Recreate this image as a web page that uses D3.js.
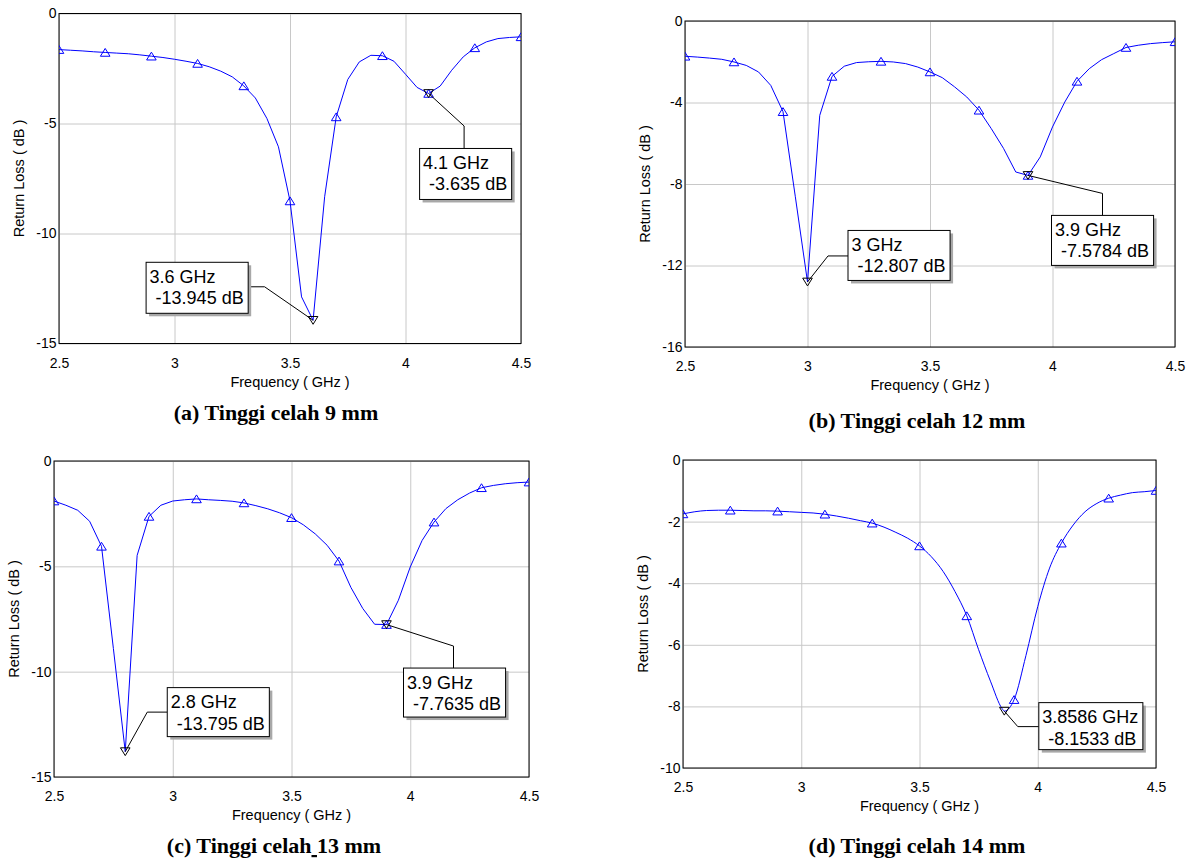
<!DOCTYPE html>
<html>
<head>
<meta charset="utf-8">
<script src="https://cdnjs.cloudflare.com/ajax/libs/d3/7.8.5/d3.min.js"></script>
<style>
  body { margin: 0; background: #fff; }
  text { font-family: "Liberation Sans", Arial, sans-serif; }
  .caption { font-family: "Liberation Serif", "Times New Roman", serif; font-weight: bold; font-size: 22px; }
</style>
</head>
<body>
<div id="chart"></div>
<script>
// sweep frequencies (GHz)
var freqs = [2.5, 2.55, 2.6, 2.65, 2.7, 2.75, 2.8, 2.85, 2.9, 2.95,
             3.0, 3.05, 3.1, 3.15, 3.2, 3.25, 3.3, 3.35, 3.4, 3.45,
             3.5, 3.55, 3.6, 3.65, 3.7, 3.75, 3.8, 3.85, 3.9, 3.95,
             4.0, 4.05, 4.1, 4.15, 4.2, 4.25, 4.3, 4.35, 4.4, 4.45, 4.5];
var freqsD = [2.5, 2.55, 2.6, 2.65, 2.7, 2.75, 2.8, 2.85, 2.9, 2.95,
              3.0, 3.05, 3.1, 3.15, 3.2, 3.25, 3.3, 3.35, 3.4, 3.45,
              3.5, 3.55, 3.6, 3.65, 3.7, 3.75, 3.8, 3.85, 3.8586, 3.9, 3.95,
              4.0, 4.05, 4.1, 4.15, 4.2, 4.25, 4.3, 4.35, 4.4, 4.45, 4.5];

// return loss (dB)
var lossA = [-1.64, -1.67, -1.70, -1.74, -1.77, -1.80, -1.83, -1.88, -1.94, -2.00,
             -2.08, -2.17, -2.27, -2.42, -2.62, -2.88, -3.29, -3.84, -4.77, -6.06,
             -8.52, -12.88, -13.945, -8.33, -4.70, -3.00, -2.20, -1.90, -1.92, -2.17,
             -2.76, -3.36, -3.635, -3.30, -2.58, -1.97, -1.56, -1.29, -1.14, -1.09, -1.06];
var lossB = [-1.73, -1.77, -1.82, -1.88, -2.01, -2.18, -2.50, -3.16, -4.45, -8.6,
             -12.807, -4.63, -2.72, -2.22, -2.04, -2.00, -1.98, -2.01, -2.09, -2.26,
             -2.50, -2.78, -3.23, -3.73, -4.38, -5.28, -6.25, -7.41, -7.5784, -6.67,
             -5.20, -3.98, -2.96, -2.34, -1.90, -1.60, -1.30, -1.19, -1.11, -1.06, -1.02];
var lossC = [-1.90, -2.10, -2.34, -2.86, -4.05, -8.9, -13.795, -4.48, -2.63, -2.10,
             -1.90, -1.84, -1.80, -1.84, -1.87, -1.91, -1.99, -2.12, -2.27, -2.46,
             -2.69, -3.03, -3.46, -4.00, -4.75, -6.00, -7.00, -7.75, -7.7635, -6.61,
             -5.03, -3.77, -2.90, -2.26, -1.84, -1.52, -1.27, -1.16, -1.08, -1.03, -1.00];
var lossD = [-1.75, -1.68, -1.64, -1.63, -1.63, -1.64, -1.65, -1.65, -1.66, -1.68,
             -1.70, -1.72, -1.76, -1.82, -1.89, -1.97, -2.05, -2.18, -2.35, -2.54,
             -2.79, -3.14, -3.62, -4.27, -5.06, -6.16, -7.18, -8.08, -8.1533, -7.78, -6.35,
             -4.76, -3.51, -2.70, -2.11, -1.68, -1.41, -1.24, -1.14, -1.06, -1.03, -0.99];

// frequencies that carry the blue triangle symbol
var symbolFreqs = [2.5, 2.7, 2.9, 3.1, 3.3, 3.5, 3.7, 3.9, 4.1, 4.3, 4.5];

var xTicks = [2.5, 3, 3.5, 4, 4.5];
var yTicksA = [0, -5, -10, -15];
var yTicksB = [0, -4, -8, -12, -16];
var yTicksC = [0, -5, -10, -15];
var yTicksD = [0, -2, -4, -6, -8, -10];

// marker readouts [GHz, dB]
var markersA = [[3.6, -13.945], [4.1, -3.635]];
var markersB = [[3, -12.807], [3.9, -7.5784]];
var markersC = [[2.8, -13.795], [3.9, -7.7635]];
var markersD = [[3.8586, -8.1533]];

var captions = ["(a) Tinggi celah 9 mm", "(b) Tinggi celah 12 mm",
                "(c) Tinggi celah 13 mm", "(d) Tinggi celah 14 mm"];

// layout of each panel (pixels)
var panels = [
  {f: freqs, v: lossA, yTicks: yTicksA, markers: markersA, caption: captions[0],
   left: 59, top: 13.5, right: 521, bottom: 343.5, capX: 276, capY: 420, curve: d3.curveLinear,
   boxes: [{dx: -167, dy: -58, ex: -48.5, ey: -33.5, side: "right", h: 51},
           {dx: -9, dy: 55, ex: 35.5, ey: 32.5, side: "top", h: 51}]},
  {f: freqs, v: lossB, yTicks: yTicksB, markers: markersB, caption: captions[1],
   left: 685, top: 21, right: 1175, bottom: 347, capX: 917, capY: 428, curve: d3.curveLinear,
   boxes: [{dx: 40.5, dy: -51.5, ex: 20.5, ey: -26, side: "left", h: 50},
           {dx: 23.5, dy: 40, ex: 74.5, ey: 18, side: "top", h: 50}]},
  {f: freqs, v: lossC, yTicks: yTicksC, markers: markersC, caption: captions[2],
   left: 54, top: 461, right: 529, bottom: 777, capX: 274, capY: 853, curve: d3.curveLinear,
   boxes: [{dx: 42, dy: -64, ex: 22, ey: -39.5, side: "left", h: 49},
           {dx: 17, dy: 43.5, ex: 67, ey: 21.5, side: "top", h: 49}]},
  {f: freqsD, v: lossD, yTicks: yTicksD, markers: markersD, caption: captions[3],
   left: 683, top: 460, right: 1156, bottom: 768, capX: 917, capY: 853, curve: d3.curveMonotoneX,
   boxes: [{dx: 34.5, dy: -8.5, ex: 13.5, ey: 15.5, side: "left", h: 47}]}
];

var svg = d3.select("#chart").append("svg")
            .attr("width", 1192)
            .attr("height", 861);

svg.append("rect").attr("width", 1192).attr("height", 861).attr("fill", "#fff");

var up = "M0,-4L4.8,3.8L-4.8,3.8Z";
var down = "M0,4L4.8,-3.8L-4.8,-3.8Z";
var fontSans = "'Liberation Sans', Arial, sans-serif";

panels.forEach(function(p, i) {
  var w = p.right - p.left, h = p.bottom - p.top;
  var g = svg.append("g");

  var xScale = d3.scaleLinear().domain([2.5, 4.5]).range([p.left, p.right]);
  var yScale = d3.scaleLinear()
                 .domain([d3.min(p.yTicks), 0])
                 .range([p.bottom, p.top]);

  // grid and tick labels
  var gx = g.append("g")
            .attr("transform", `translate(0,${p.bottom})`)
            .call(d3.axisBottom(xScale).tickValues(xTicks)
                    .tickSizeInner(-h).tickSizeOuter(0).tickPadding(14.5)
                    .tickFormat(d => String(d)));
  var gy = g.append("g")
            .attr("transform", `translate(${p.left},0)`)
            .call(d3.axisLeft(yScale).tickValues(p.yTicks)
                    .tickSizeInner(-w).tickSizeOuter(0).tickPadding(2.5)
                    .tickFormat(d => String(d)));
  [gx, gy].forEach(function(a) {
    a.attr("font-family", fontSans).attr("font-size", 14);
    a.select(".domain").remove();
    a.selectAll("line").attr("stroke", "#c8c8c8");
    a.selectAll("text").attr("fill", "#000");
  });

  g.append("rect")
   .attr("x", p.left).attr("y", p.top)
   .attr("width", w).attr("height", h)
   .attr("fill", "none").attr("stroke", "#000");

  // axis titles
  g.append("text")
   .attr("x", (p.left + p.right) / 2)
   .attr("y", p.bottom + 43)
   .attr("text-anchor", "middle")
   .attr("font-size", 14.5)
   .text("Frequency ( GHz )");
  g.append("text")
   .attr("transform", `translate(${p.left - 35.5},${(p.top + p.bottom) / 2}) rotate(-90)`)
   .attr("text-anchor", "middle")
   .attr("font-size", 14.5)
   .text("Return Loss ( dB )");

  // curve
  svg.append("clipPath").attr("id", "clip" + i)
     .append("rect")
     .attr("x", p.left).attr("y", p.top)
     .attr("width", w).attr("height", h);

  var pts = p.f.map((f, k) => [f, p.v[k]]);
  var line = d3.line()
               .x(d => xScale(d[0]))
               .y(d => yScale(d[1]))
               .curve(p.curve);

  var plot = g.append("g").attr("clip-path", `url(#clip${i})`);
  plot.append("path")
      .datum(pts)
      .attr("d", line)
      .attr("fill", "none")
      .attr("stroke", "#0000ff")
      .attr("stroke-width", 1);

  plot.selectAll(".sym")
      .data(pts.filter(d => symbolFreqs.some(s => Math.abs(s - d[0]) < 1e-6)))
      .enter()
      .append("path")
      .attr("class", "sym")
      .attr("d", up)
      .attr("transform", d => `translate(${xScale(d[0])},${yScale(d[1])})`)
      .attr("fill", "none")
      .attr("stroke", "#0000ff");

  // marker readouts
  p.markers.forEach(function(m, k) {
    var L = p.boxes[k];
    var mx = xScale(m[0]), my = yScale(m[1]);
    var bx = mx + L.dx, by = my + L.dy;

    var ann = g.append("g");
    var shadow = ann.append("rect").attr("fill", "#a8a8a8");
    var box = ann.append("rect").attr("fill", "#fff").attr("stroke", "#000");
    var t1 = ann.append("text").attr("x", bx + 3.5).attr("y", by + 20.5)
                .attr("font-size", 18).text(`${m[0]} GHz`);
    var t2 = ann.append("text").attr("x", bx + 9.5).attr("y", by + 42)
                .attr("font-size", 18).text(`${m[1]} dB`);
    var bw = Math.max(t1.node().getComputedTextLength() + 3.5,
                      t2.node().getComputedTextLength() + 9.5) + 4.5;
    box.attr("x", bx).attr("y", by).attr("width", bw).attr("height", L.h);
    shadow.attr("x", bx + 3).attr("y", by + 3).attr("width", bw).attr("height", L.h);

    var ex = mx + L.ex, ey = my + L.ey;
    var end = L.side == "left" ? [bx, ey] : L.side == "right" ? [bx + bw, ey] : [ex, by];
    g.insert("path", () => ann.node())
     .attr("d", d3.line()([[mx, my], [ex, ey], end]))
     .attr("fill", "none")
     .attr("stroke", "#000");

    g.insert("path", () => ann.node())
     .attr("d", down)
     .attr("transform", `translate(${mx},${my})`)
     .attr("fill", "none")
     .attr("stroke", "#000");
  });

  // caption
  var cap = svg.append("text")
               .attr("class", "caption")
               .attr("x", p.capX)
               .attr("y", p.capY)
               .attr("text-anchor", "middle")
               .style("white-space", "pre");
  if (i == 2) {
    // the reference has an underlined gap between "celah" and "13"
    cap.append("tspan").text("(c) Tinggi celah");
    cap.append("tspan").style("text-decoration", "underline").text(" ");
    cap.append("tspan").text("13 mm");
  } else {
    cap.text(p.caption);
  }
});
</script>
</body>
</html>
